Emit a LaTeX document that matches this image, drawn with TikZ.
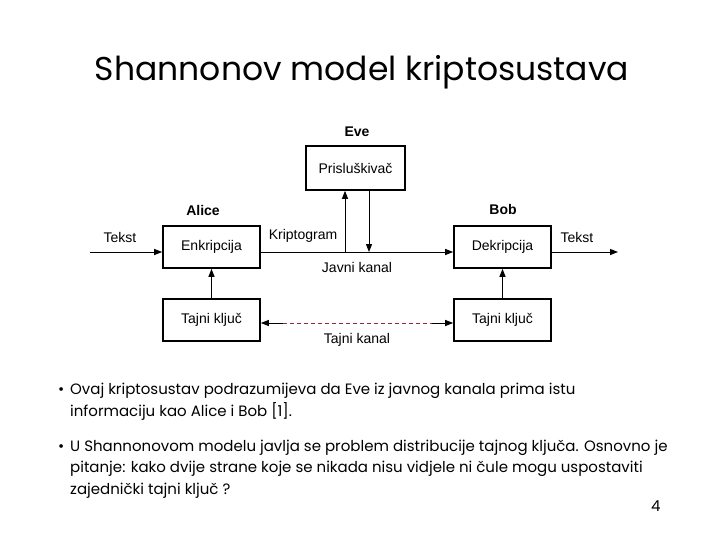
\documentclass[tikz,border=0pt]{standalone}
\usepackage{fontspec}
\setmainfont{Liberation Sans}
\newfontfamily\slidefont{Poppins}
\usetikzlibrary{arrows.meta}
\tikzset{
  blk/.style={draw, line width=1.6pt, minimum width=97pt, minimum height=42pt, inner sep=0pt, font=\fontsize{14}{16}\selectfont},
  lbl/.style={inner sep=0pt, font=\fontsize{14}{16}\selectfont},
  blbl/.style={inner sep=0pt, font=\bfseries\fontsize{14}{16}\selectfont},
  conn/.style={line width=1pt, -{Triangle[length=8pt,width=6pt]}},
  plain/.style={line width=1pt},
  slide/.style={inner sep=0pt, anchor=base west, font=\slidefont\fontsize{15}{18}\selectfont},
}
\begin{document}
\begin{tikzpicture}[x=1pt,y=-1pt]
\useasboundingbox (0,0) rectangle (720,540);
\fill[white] (0,0) rectangle (720,540);
% title
\node[inner sep=0pt, font=\slidefont\fontsize{33}{38}\selectfont] (title) at (362,72) {Shannonov model kriptosustava};
% labels
\node[blbl] (eve) at (357,132) {Eve};
\node[blbl] (alice) at (203,210) {Alice};
\node[blbl] (bob) at (503,209) {Bob};
% boxes
\node[blk, minimum width=99pt, minimum height=44pt] (pris) at (355.5,168) {Prisluškivač};
\node[blk] (enk) at (211.5,247) {Enkripcija};
\node[blk] (dek) at (502.5,247) {Dekripcija};
\node[blk] (tk1) at (211.5,320) {Tajni ključ};
\node[blk] (tk2) at (502.5,320) {Tajni ključ};
% coordinates
\coordinate (tin) at (90,252);
\coordinate (tout) at (618,252);
\coordinate (eup) at (345,252);
\coordinate (edn) at (369,252);
\coordinate (dl) at (283,323);
\coordinate (dr) at (432,323);
% connectors
\draw[conn] (tin) -- (enk.west |- tin);
\draw[conn] (enk.east |- tin) -- (dek.west |- tin);
\draw[conn] (dek.east |- tout) -- (tout);
\draw[conn] (eup) -- (eup |- pris.south);
\draw[conn] (edn |- pris.south) -- (edn);
\draw[conn] (tk1.north) -- (enk.south);
\draw[conn] (tk2.north) -- (dek.south);
\draw[conn] (dl) -- (tk1.east |- dl);
\draw[conn] (dr) -- (tk2.west |- dr);
\draw[line width=0.8pt, dashed, dash pattern=on 4pt off 3pt, color={rgb,255:red,150;green,40;blue,60}] (dl) -- (dr);
% text labels
\node[lbl] (t1) at (120,237) {Tekst};
\node[lbl] (kri) at (303,236) {Kriptogram};
\node[lbl] (t2) at (577,237) {Tekst};
\node[lbl] (jk) at (357,267) {Javni kanal};
\node[lbl] (tkan) at (357,340) {Tajni kanal};
% bullets
\node[slide] (b1) at (58,394) {•};
\node[slide] (l1) at (70,394) {Ovaj kriptosustav podrazumijeva da Eve iz javnog kanala prima istu};
\node[slide] (l2) at (70,416) {informaciju kao Alice i Bob [1].};
\node[slide] (b2) at (58,451) {•};
\node[slide] (l3) at (70,451) {U Shannonovom modelu javlja se problem distribucije tajnog ključa. Osnovno je};
\node[slide] (l4) at (70,472) {pitanje: kako dvije strane koje se nikada nisu vidjele ni čule mogu uspostaviti};
\node[slide] (l5) at (70,494) {zajednički tajni ključ ?};
\node[slide] (pg) at (651,511) {4};
\end{tikzpicture}
\end{document}
